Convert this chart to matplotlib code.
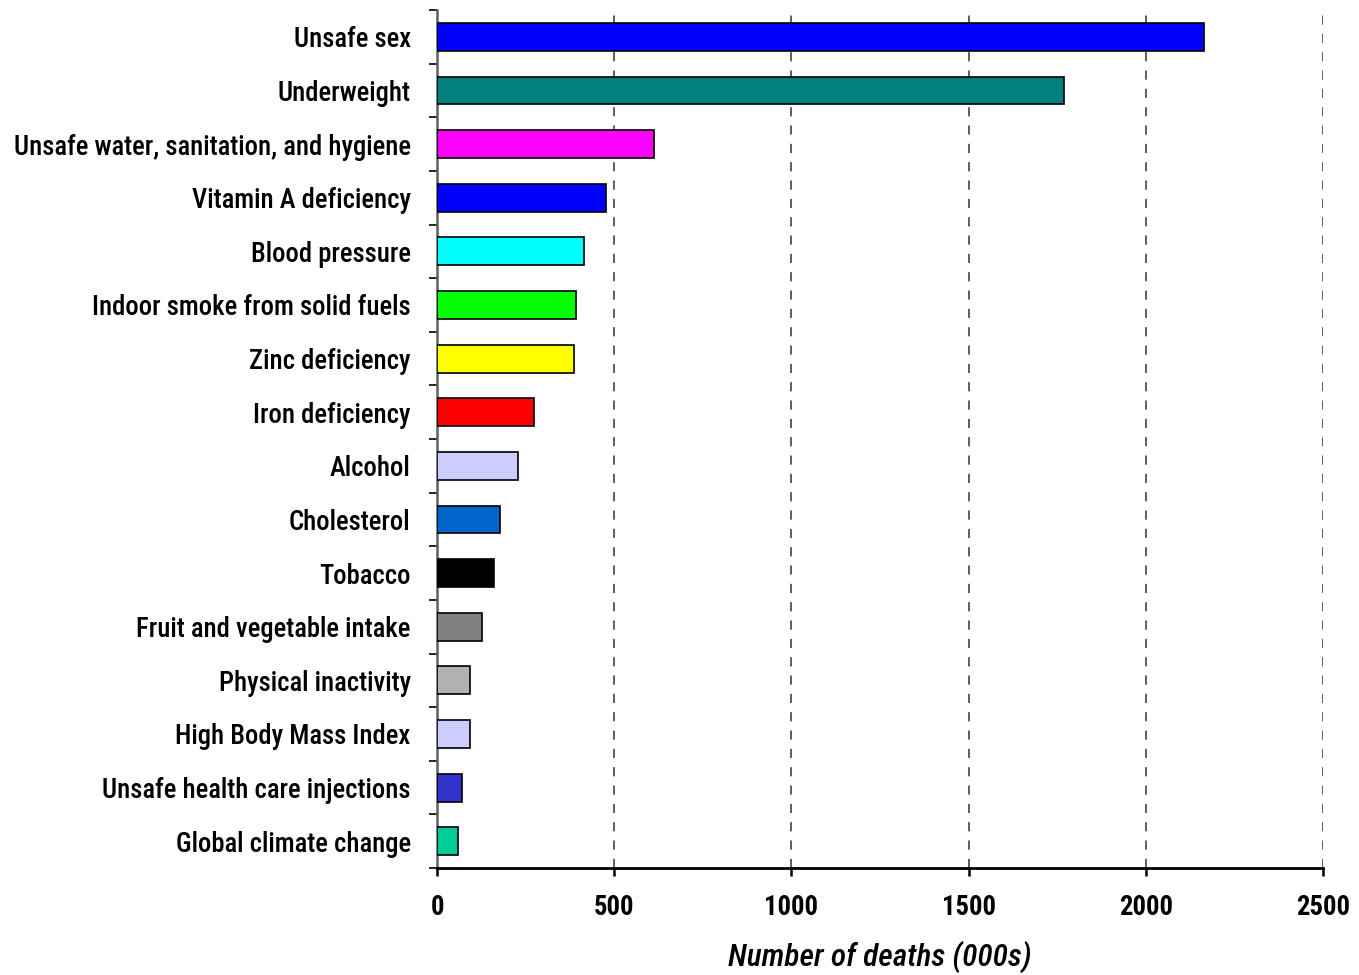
import matplotlib.pyplot as plt
import numpy as np
from matplotlib import font_manager

# Attributable deaths by risk factor
risk_factors = [
    'Unsafe sex', 'Underweight', 'Unsafe water, sanitation, and hygiene',
    'Vitamin A deficiency', 'Blood pressure', 'Indoor smoke from solid fuels',
    'Zinc deficiency', 'Iron deficiency', 'Alcohol', 'Cholesterol', 'Tobacco',
    'Fruit and vegetable intake', 'Physical inactivity', 'High Body Mass Index',
    'Unsafe health care injections', 'Global climate change',
]
deaths = [2165, 1768, 612, 476, 414, 391, 386, 273, 228, 177, 160, 126, 92, 92, 70, 58]
bar_colors = [
    '#0000FF', '#008080', '#FF00FF', '#0000FF', '#00FFFF', '#00FF00',
    '#FFFF00', '#FF0000', '#CCCCFF', '#0066CC', '#000000', '#808080',
    '#B2B2B2', '#CCCCFF', '#3333CC', '#00CC99',
]
x_ticks = [0, 500, 1000, 1500, 2000, 2500]

# pick a narrow font if one is around
names = {f.name for f in font_manager.fontManager.ttflist}
font = 'Liberation Sans'
for cand in ['Liberation Sans Narrow', 'Arial Narrow', 'Roboto Condensed', 'Open Sans Condensed']:
    if cand in names:
        font = cand
        break
stretch = 'normal'
if font == 'Liberation Sans':
    if any(f.name == 'DejaVu Sans' and f.stretch == 'condensed' for f in font_manager.fontManager.ttflist):
        font, stretch = 'DejaVu Sans', 'condensed'
plt.rcParams['font.family'] = [font, 'DejaVu Sans']
plt.rcParams['font.stretch'] = stretch

fig = plt.figure(figsize=(13.59, 9.75), dpi=100)
ax = fig.add_axes([0.3216, 0.1097, 0.9735 - 0.3216, 0.9897 - 0.1097])

y = np.arange(len(risk_factors))
ax.barh(y, deaths, height=0.52, color=bar_colors, edgecolor='black', linewidth=1.2, zorder=3)

ax.set_ylim(len(risk_factors) - 0.5, -0.5)
ax.set_xlim(0, 2500)

# size the labels so the longest one fits like in the original
r = fig.canvas.get_renderer()
probe = fig.text(0, 0, risk_factors[2], fontsize=20, fontweight='medium')
w = probe.get_window_extent(r).width
probe.remove()
fs = min(22, 20 * 397 / w)

ax.set_yticks(y)
ax.set_yticklabels(risk_factors, fontsize=fs, fontweight='medium')
ax.tick_params(axis='y', which='major', length=0, pad=19)
ax.set_yticks(np.arange(-0.5, len(risk_factors)), minor=True)
ax.tick_params(axis='y', which='minor', length=6, width=1.2, color='black')

ax.set_xticks(x_ticks)
ax.set_xticklabels([str(v) for v in x_ticks], fontsize=fs, fontweight='bold')
ax.tick_params(axis='x', length=6, width=1.8, pad=13)

ax.xaxis.grid(True, linestyle=(0, (6, 6)), color='#333333', linewidth=1.1, zorder=0)
ax.set_axisbelow(True)

for side in ['top', 'right']:
    ax.spines[side].set_visible(False)
ax.spines['left'].set_color('#606060')
ax.spines['left'].set_linewidth(1.8)
ax.spines['bottom'].set_linewidth(2)

ax.set_xlabel('Number of deaths (000s)', fontsize=fs * 1.18, fontstyle='italic',
              fontweight='medium', labelpad=14)

fig.savefig('out.png', dpi=100)
